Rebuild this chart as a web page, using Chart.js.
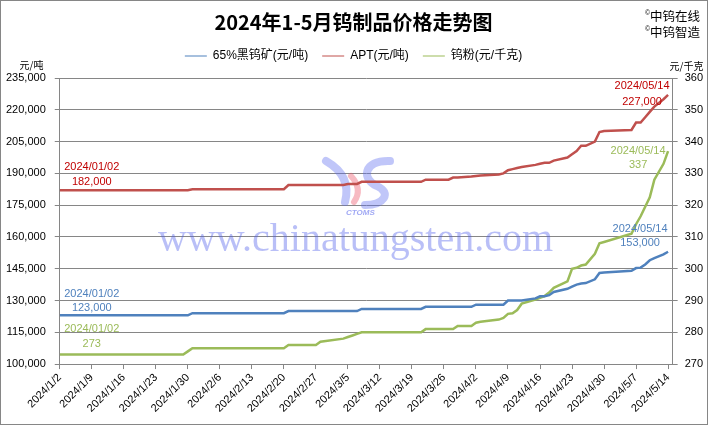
<!DOCTYPE html>
<html>
<head>
<meta charset="utf-8">
<script src="https://cdn.jsdelivr.net/npm/chart.js@4.4.0/dist/chart.umd.min.js"></script>
<style>
html, body { margin: 0; padding: 0; background: #fff; }
</style>
</head>
<body>
<canvas id="grafico" width="710" height="426"></canvas>
<script>
// Datas de cotação (2024) e preços
const datas = ['1/2','1/29','1/30','1/31','2/20','2/21','2/27','2/28','3/4','3/5','3/6','3/7','3/8','3/21','3/22','3/27','3/28','3/29',
  '4/1','4/2','4/3','4/7','4/8','4/9','4/10','4/11','4/12','4/15','4/16','4/17','4/18','4/19','4/22','4/23','4/24','4/25','4/26','4/28','4/29','4/30',
  '5/6','5/7','5/8','5/9','5/10','5/11','5/13','5/14'];

// 65%黑钨矿 (元/吨)
const precoMinerio = [123000,123000,123000,124000,124000,125000,125000,125000,125000,125000,125000,125000,126000,126000,127000,127000,127000,127000,
  127000,128000,128000,128000,128000,130000,130000,130000,130000,131000,132000,132000,132500,134000,135500,136500,137500,138000,138200,140000,143000,143200,
  144000,145300,145500,147000,149000,150000,151800,153000];

// APT (元/吨)
const precoAPT = [182000,182000,182000,182500,182500,184500,184500,184500,184500,185000,185000,185000,186000,186000,187000,187000,188000,188000,
  188500,188800,189000,189500,190000,191500,192000,192500,193000,194000,194500,195000,195000,196000,197500,199000,200500,203000,203000,205000,209500,210000,
  210500,214000,214000,216500,219000,221500,225000,227000];

// 钨粉 (元/千克)
const precoPo = [273,273,274,275,275,276,276,277,278,278.5,279,279.5,280,280,281,281,281,282,
  282,283,283.3,284,284.5,285.8,286,287,289,290.3,290.8,291.4,292.5,294,296,300,300.3,301,301.3,304.7,308,308.4,
  311,314,316.5,319.5,322.5,328,333,337];

// Rótulos do eixo X (um a cada 7 dias)
const rotulosX = ['2024/1/2','2024/1/9','2024/1/16','2024/1/23','2024/1/30','2024/2/6','2024/2/13','2024/2/20','2024/2/27','2024/3/5',
  '2024/3/12','2024/3/19','2024/3/26','2024/4/2','2024/4/9','2024/4/16','2024/4/23','2024/4/30','2024/5/7','2024/5/14'];

const nomesSeries = ['65%黑钨矿(元/吨)', 'APT(元/吨)', '钨粉(元/千克)'];

const FONTE = "'Liberation Sans', 'Noto Sans CJK SC', sans-serif";
const CINZA = '#868686';

// Converte 'M/D' no número de dias desde 2024/1/2
function diaDe(s) {
  const [m, d] = s.split('/').map(Number);
  return (Date.UTC(2024, m - 1, d) - Date.UTC(2024, 0, 2)) / 864e5;
}
const pontos = serie => datas.map((d, i) => ({ x: diaDe(d), y: serie[i] }));

function dataLonga(s) {
  const [m, d] = s.split('/');
  return '2024/' + m.padStart(2, '0') + '/' + d.padStart(2, '0');
}

// Rótulos de dados (primeiro e último ponto de cada série)
const rotulosDados = [
  { serie: 1, idx: 0, cor: '#C00000', dx: 32, dy: [-23, -8] },
  { serie: 0, idx: 0, cor: '#4F81BD', dx: 32, dy: [-21, -7] },
  { serie: 2, idx: 0, cor: '#9BBB59', dx: 32, dy: [-26, -11] },
  { serie: 1, idx: -1, cor: '#C00000', dx: -26, dy: [-9, 7] },
  { serie: 2, idx: -1, cor: '#9BBB59', dx: -30, dy: [0, 14] },
  { serie: 0, idx: -1, cor: '#4F81BD', dx: -28, dy: [-23, -9] }
];
const valoresSeries = [precoMinerio, precoAPT, precoPo];

// Marca d'água (texto + logotipo), desenhada atrás das linhas
const marcaDagua = {
  id: 'marcaDagua',
  beforeDatasetsDraw(chart) {
    const c = chart.ctx;
    c.save();
    c.fillStyle = 'rgba(80, 95, 235, 0.40)';
    c.font = "40px 'Liberation Serif', serif";
    c.textBaseline = 'alphabetic';
    c.fillText('www.chinatungsten.com', 158, 251);

    // logotipo CTOMS aproximado
    c.lineCap = 'round';
    c.strokeStyle = 'rgba(90, 105, 240, 0.38)';
    c.lineWidth = 8;
    c.beginPath();
    c.moveTo(326, 161);
    c.quadraticCurveTo(352, 176, 345, 202);
    c.stroke();
    c.beginPath();
    c.moveTo(390, 161);
    c.bezierCurveTo(362, 160, 362, 180, 377, 186);
    c.bezierCurveTo(392, 193, 384, 205, 365, 205);
    c.stroke();
    c.strokeStyle = 'rgba(235, 90, 110, 0.42)';
    c.lineWidth = 6;
    c.beginPath();
    c.moveTo(351, 176);
    c.quadraticCurveTo(363, 189, 354, 202);
    c.stroke();
    c.fillStyle = 'rgba(80, 95, 235, 0.55)';
    c.font = "italic bold 8px 'Liberation Sans', sans-serif";
    c.fillText('CTOMS', 346, 215);
    c.restore();
  }
};

// Textos de rótulos, unidades, logotipo do canto e moldura
const textosExtras = {
  id: 'textosExtras',
  afterDraw(chart) {
    const c = chart.ctx;
    c.save();
    c.textAlign = 'center';
    c.textBaseline = 'middle';
    c.font = '11px ' + FONTE;
    rotulosDados.forEach(r => {
      const meta = chart.getDatasetMeta(r.serie);
      const i = r.idx < 0 ? datas.length - 1 : r.idx;
      const p = meta.data[i];
      const v = valoresSeries[r.serie][i];
      const txt = r.serie === 2 ? String(v) : v.toLocaleString('en-US');
      c.fillStyle = r.cor;
      c.fillText(dataLonga(datas[i]), p.x + r.dx, p.y + r.dy[0]);
      c.fillText(txt, p.x + r.dx, p.y + r.dy[1]);
    });

    c.fillStyle = '#000';
    c.font = "10px 'Noto Sans CJK SC', sans-serif";
    c.fillText('元/吨', 31.5, 65);
    c.fillText('元/千克', 686.5, 66.5);

    c.textAlign = 'left';
    c.font = "7px 'Liberation Sans', sans-serif";
    c.fillText('©', 645, 13);
    c.fillText('©', 645, 29);
    c.font = "12.5px 'Noto Sans CJK SC', sans-serif";
    c.fillText('中钨在线', 650, 16);
    c.fillText('中钨智造', 650, 32);

    c.strokeStyle = CINZA;
    c.lineWidth = 1;
    c.strokeRect(0.5, 0.5, 707, 424);
    c.restore();
  }
};

const ctx = document.getElementById('grafico').getContext('2d');
const grafico = new Chart(ctx, {
  type: 'line',
  data: {
    datasets: [
      { label: nomesSeries[0], data: pontos(precoMinerio), borderColor: '#4F81BD', backgroundColor: '#4F81BD', yAxisID: 'y' },
      { label: nomesSeries[1], data: pontos(precoAPT), borderColor: '#C0504D', backgroundColor: '#C0504D', yAxisID: 'y' },
      { label: nomesSeries[2], data: pontos(precoPo), borderColor: '#9BBB59', backgroundColor: '#9BBB59', yAxisID: 'y1' }
    ]
  },
  options: {
    responsive: false,
    animation: false,
    devicePixelRatio: 1,
    layout: { padding: { top: 2, left: -3, right: 0, bottom: 9 } },
    elements: {
      point: { radius: 0 },
      line: { borderWidth: 2.5, tension: 0 }
    },
    plugins: {
      title: {
        display: true,
        text: '2024年1-5月钨制品价格走势图',
        color: '#000',
        font: { family: "'Noto Sans CJK SC', sans-serif", size: 20, weight: 'bold' },
        padding: { top: 8, bottom: 2 }
      },
      // caixa vazia só para afastar a legenda da área do gráfico
      subtitle: {
        display: true,
        text: '',
        weight: 500,
        font: { size: 5 },
        padding: 0
      },
      legend: {
        display: true,
        labels: {
          color: '#000',
          font: { family: FONTE, size: 12 },
          usePointStyle: true,
          pointStyle: 'line',
          pointStyleWidth: 22,
          padding: 14
        }
      },
      tooltip: { enabled: false }
    },
    scales: {
      x: {
        type: 'linear',
        min: 0,
        max: 134,
        afterBuildTicks: s => { s.ticks = rotulosX.map((_, i) => ({ value: i * 7 })); },
        ticks: {
          autoSkip: false,
          minRotation: 45,
          maxRotation: 45,
          color: '#000',
          font: { family: FONTE, size: 11 },
          padding: 2,
          callback: (v, i) => rotulosX[i]
        },
        grid: { drawOnChartArea: false, tickLength: 5, color: CINZA },
        border: { color: CINZA }
      },
      y: {
        position: 'left',
        min: 100000,
        max: 235000,
        ticks: {
          stepSize: 15000,
          color: '#000',
          font: { family: FONTE, size: 11 },
          padding: 9,
          callback: v => v.toLocaleString('en-US')
        },
        grid: { color: CINZA, tickLength: 5 },
        border: { color: CINZA }
      },
      y1: {
        position: 'right',
        min: 270,
        max: 360,
        ticks: {
          stepSize: 10,
          color: '#000',
          font: { family: FONTE, size: 11 },
          padding: 7
        },
        grid: { drawOnChartArea: false, tickLength: 5, color: CINZA },
        border: { color: CINZA }
      }
    }
  },
  plugins: [marcaDagua, textosExtras]
});
</script>
</body>
</html>
